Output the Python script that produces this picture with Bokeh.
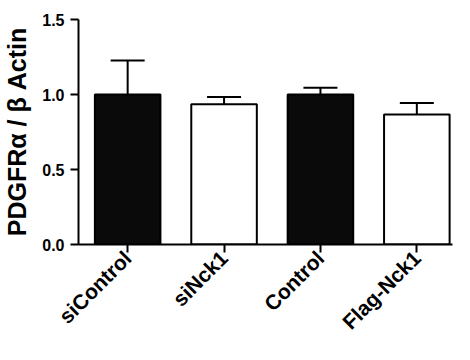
import math
from bokeh.plotting import figure
from bokeh.models import ColumnDataSource, Whisker, Range1d, FixedTicker, TeeHead, PrintfTickFormatter
from bokeh.embed import file_html
from bokeh.resources import INLINE

categories = ["siControl", "siNck1", "Control", "Flag-Nck1"]
means = [1.0, 0.935, 1.0, 0.866]
errors = [0.226, 0.048, 0.045, 0.078]
fills = ["#0a0a0a", "#ffffff", "#0a0a0a", "#ffffff"]
y_ticks = [0.0, 0.5, 1.0, 1.5]

xs = list(range(1, len(categories) + 1))
src = ColumnDataSource(dict(
    x=xs, top=means, upper=[m + e for m, e in zip(means, errors)], fill=fills,
))

p = figure(width=454, height=344, output_backend="svg", toolbar_location=None,
           x_range=Range1d(0.49, 4.37), y_range=Range1d(0, 1.5),
           min_border_left=75, min_border_right=2, min_border_top=19, min_border_bottom=93)
p.outline_line_color = None
p.grid.visible = False

p.vbar(x="x", top="top", bottom=0, width=0.68, source=src, fill_color="fill",
       line_color="black", line_width=2)
w = Whisker(base="x", lower="top", upper="upper", source=src, line_width=2, line_color="black",
            upper_head=TeeHead(size=34, line_width=2, line_color="black"), lower_head=None)
p.add_layout(w)

p.xaxis.ticker = FixedTicker(ticks=xs)
p.xaxis.major_label_overrides = {x: c for x, c in zip(xs, categories)}
p.xaxis.major_label_orientation = math.pi / 4
p.yaxis.ticker = FixedTicker(ticks=y_ticks)
p.yaxis.formatter = PrintfTickFormatter(format="%.1f")

for ax in (p.xaxis, p.yaxis):
    ax.axis_line_width = 2
    ax.major_tick_line_width = 2
    ax.minor_tick_line_color = None
    ax.major_tick_in = 0
    ax.major_label_text_font = "Liberation Sans"
    ax.major_label_text_font_style = "bold"
    ax.major_label_text_color = "black"
    ax.axis_line_color = "black"
    ax.major_tick_line_color = "black"

p.yaxis.major_tick_out = 8
p.yaxis.major_label_text_font_size = "16px"
p.yaxis.major_label_standoff = 6
p.xaxis.major_tick_out = 8
p.xaxis.major_label_text_font_size = "21px"
p.xaxis.major_label_text_line_height = 0.8
p.xaxis.major_label_standoff = 2

p.yaxis.axis_label = "PDGFRα / β Actin"
p.yaxis.axis_label_text_font = "Liberation Sans"
p.yaxis.axis_label_text_font_style = "bold"
p.yaxis.axis_label_text_font_size = "25px"
p.yaxis.axis_label_text_color = "black"
p.yaxis.axis_label_standoff = 8

open("out.html", "w").write(file_html(p, INLINE))
